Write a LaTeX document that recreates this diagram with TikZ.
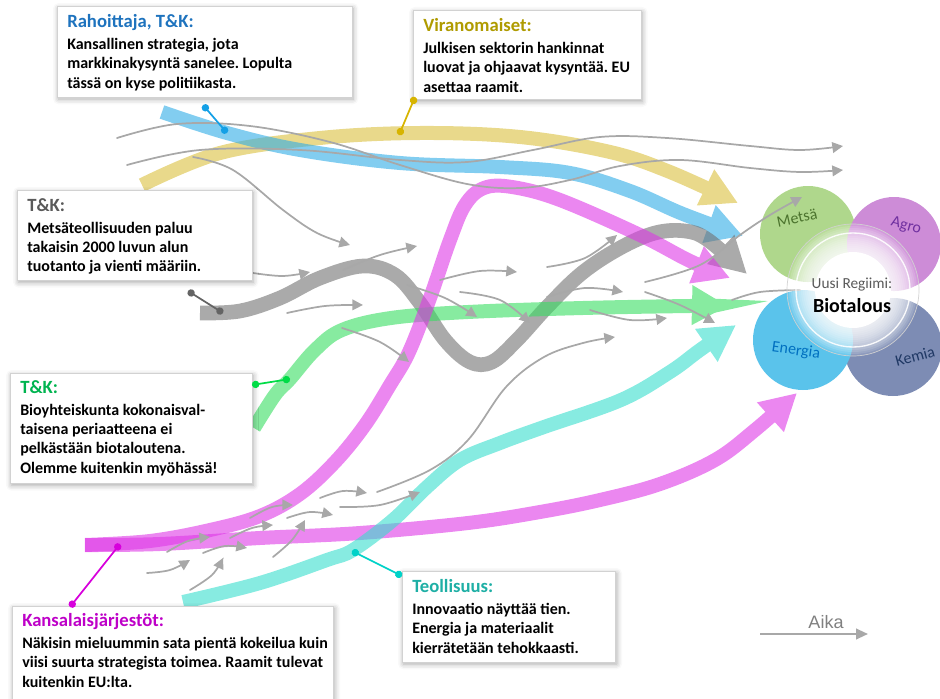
\documentclass[tikz,border=0pt]{standalone}
\usepackage{fontspec}
\setmainfont{Carlito}
\newfontfamily\axisfont{Liberation Sans}
\usetikzlibrary{arrows.meta,shadows.blur}

% band colours (used at 60% opacity)
\definecolor{bandyellow}{RGB}{218,192,62}
\definecolor{bandblue}{RGB}{47,172,230}
\definecolor{bandmagenta}{RGB}{222,55,230}
\definecolor{bandgray}{RGB}{113,113,113}
\definecolor{bandgreen}{RGB}{55,222,97}
\definecolor{bandteal}{RGB}{55,222,205}
\definecolor{flowgray}{RGB}{168,168,168}
\definecolor{boxborder}{RGB}{210,210,210}
% callout titles
\definecolor{titleblue}{RGB}{30,115,190}
\definecolor{titlegold}{RGB}{175,155,0}
\definecolor{titlegray}{RGB}{90,90,90}
\definecolor{titlegreen}{RGB}{0,180,80}
\definecolor{titlemagenta}{RGB}{190,0,200}
\definecolor{titleteal}{RGB}{30,175,165}
% callout leaders
\definecolor{connblue}{RGB}{20,160,230}
\definecolor{conngold}{RGB}{215,180,0}
\definecolor{conngray}{RGB}{100,100,100}
\definecolor{conngreen}{RGB}{0,220,70}
\definecolor{connmagenta}{RGB}{215,0,220}
\definecolor{connteal}{RGB}{0,210,200}
% sector petals
\definecolor{metsafill}{RGB}{175,215,140}
\definecolor{agrofill}{RGB}{205,140,215}
\definecolor{energiafill}{RGB}{90,195,235}
\definecolor{kemiafill}{RGB}{125,140,180}
\definecolor{metsatext}{RGB}{75,115,45}
\definecolor{agrotext}{RGB}{112,48,160}
\definecolor{energiatext}{RGB}{0,112,192}
\definecolor{kemiatext}{RGB}{31,56,100}

\newcommand\calltitle[2]{{\fontsize{14}{16}\selectfont\color{#1}#2}}

\begin{document}
\begin{tikzpicture}[x=0.75pt,y=-0.75pt,
  band/.style={line width=10.5pt, line cap=butt, -{Triangle[length=27pt,width=28pt]}},
  flowline/.style={draw=flowgray, line width=1.3pt, line cap=round, -{Triangle[length=8pt,width=8pt]}},
  callout/.style={draw=boxborder, line width=0.5pt, fill=white, anchor=north west, inner sep=0pt,
     blur shadow={shadow xshift=0.8pt, shadow yshift=-1.5pt, shadow blur radius=4pt, shadow opacity=35}},
  calltext/.style={anchor=north west, align=left, inner sep=0pt, font=\frenchspacing\bfseries\fontsize{12}{14.5}\selectfont},
  conn/.style={line width=1.3pt, {Circle[length=5.5pt]}-{Circle[length=5.5pt]}},
  petallabel/.style={font=\fontsize{12}{14}\selectfont, inner sep=0pt}
]
\useasboundingbox (0,0) rectangle (940,699);

% ---------- thick transition bands ----------
\begin{scope}[transparency group, opacity=0.6]
\draw[band, bandyellow] plot[smooth, tension=0.6] coordinates {(142,185) (220,153) (320,138) (420,133) (520,137) (610,152) (670,172) (738,203)};
\end{scope}
\begin{scope}[transparency group, opacity=0.6]
\draw[band, bandblue] plot[smooth, tension=0.6] coordinates {(162,112) (227,133) (300,150) (400,163) (500,167) (570,173) (630,191) (683,214) (743,236)};
\end{scope}
\begin{scope}[transparency group, opacity=0.6]
\draw[band, bandgray, line width=11pt] plot[smooth, tension=0.6] coordinates {(200,313) (240,311) (280,298) (320,278) (363,266) (395,275) (420,303) (445,340) (470,362) (492,362) (517,340) (548,306) (582,273) (620,248) (655,233) (685,231) (708,240) (747,274)};
\end{scope}
\begin{scope}[transparency group, opacity=0.6]
\draw[band, bandgreen] plot[smooth, tension=0.6] coordinates {(254,428) (275,395) (290,379) (315,350) (342,330) (391,318) (468,312) (583,308) (690,306) (728,306)};
\end{scope}
\begin{scope}[transparency group, opacity=0.6]
\draw[band, bandmagenta] plot[smooth, tension=0.6] coordinates {(85,545) (150,541) (210,530) (260,516) (300,494) (335,462) (365,425) (390,385) (409,352) (430,298) (450,240) (465,205) (484,188) (512,187) (560,200) (640,235) (690,261) (730,278)};
\end{scope}
\begin{scope}[transparency group, opacity=0.6]
\draw[band, bandmagenta] plot[smooth, tension=0.6] coordinates {(85,545) (160,544) (260,538) (360,533) (468,523) (540,512) (600,500) (660,484) (715,460) (755,430) (797,393)};
\end{scope}
\begin{scope}[transparency group, opacity=0.6]
\draw[band, bandteal] plot[smooth, tension=0.6] coordinates {(183,602) (260,583) (327,560) (353,550) (393,520) (427,487) (460,460) (500,443) (544,427) (621,400) (670,372) (700,350) (736,325)};
\end{scope}

% ---------- sector petals ----------
\fill[metsafill] (808,234) circle[radius=48];
\fill[agrofill] (894,244) circle[radius=47];
\fill[kemiafill] (893,347) circle[radius=49];
\fill[energiafill] (803,340) circle[radius=50];

% ---------- thin flow arrows ----------
\draw[flowline] plot[smooth, tension=0.6] coordinates {(117,138) (177,124) (250,126) (330,142) (400,165) (467,184) (520,188) (570,180) (620,166) (680,160) (750,168) (800,172) (843,170)};
\draw[flowline] plot[smooth, tension=0.6] coordinates {(127,165) (200,150) (300,150) (400,160) (467,162) (533,150) (600,137) (667,138) (750,146) (800,150) (843,146)};
\draw[flowline] plot[smooth, tension=0.6] coordinates {(193,157) (233,170) (283,210) (317,233) (350,245)};
\draw[flowline] plot[smooth, tension=0.6] coordinates {(343,270) (380,255) (417,246)};
\draw[flowline] plot[smooth, tension=0.6] coordinates {(253,273) (283,276) (310,272)};
\draw[flowline] plot[smooth, tension=0.6] coordinates {(287,313) (325,306) (363,305)};
\draw[flowline] plot[smooth, tension=0.6] coordinates {(407,285) (445,298) (477,317)};
\draw[flowline] plot[smooth, tension=0.6] coordinates {(440,280) (480,271) (517,272)};
\draw[flowline] plot[smooth, tension=0.6] coordinates {(460,292) (500,300) (530,323)};
\draw[flowline] plot[smooth, tension=0.6] coordinates {(547,267) (585,258) (617,235)};
\draw[flowline] plot[smooth, tension=0.6] coordinates {(547,297) (585,288) (623,292)};
\draw[flowline] plot[smooth, tension=0.6] coordinates {(590,310) (630,320) (667,318)};
\draw[flowline] plot[smooth, tension=0.6] coordinates {(645,292) (680,305) (715,323)};
\draw[flowline] plot[smooth, tension=0.6] coordinates {(342,328) (380,342) (409,362)};
\draw[flowline] plot[smooth, tension=0.6] coordinates {(377,492) (430,470) (468,440) (506,387) (544,357) (583,343) (615,337)};
\draw[flowline] plot[smooth, tension=0.6] coordinates {(645,282) (700,265) (740,235) (770,215) (802,197)};
\draw[flowline, -] plot[smooth, tension=0.6] coordinates {(732,300) (760,292) (800,290)};
\draw[flowline] plot[smooth, tension=0.6] coordinates {(147,573) (170,570) (190,560)};
\draw[flowline] plot[smooth, tension=0.6] coordinates {(190,590) (212,575) (223,558)};
\draw[flowline] plot[smooth, tension=0.6] coordinates {(167,552) (188,541) (210,537)};
\draw[flowline] plot[smooth, tension=0.6] coordinates {(203,553) (225,546) (247,548)};
\draw[flowline] plot[smooth, tension=0.6] coordinates {(230,538) (252,528) (273,525)};
\draw[flowline] plot[smooth, tension=0.6] coordinates {(250,518) (272,507) (293,505)};
\draw[flowline] plot[smooth, tension=0.6] coordinates {(273,557) (292,540) (305,520)};
\draw[flowline] plot[smooth, tension=0.6] coordinates {(287,518) (310,512) (333,515)};
\draw[flowline] plot[smooth, tension=0.6] coordinates {(320,498) (343,491) (367,493)};
\draw[flowline] plot[smooth, tension=0.6] coordinates {(340,507) (380,505) (420,492)};

% ---------- hub: glassy disc, clear rim turning white towards the centre ----------
\coordinate (hub) at (853,290);
\foreach \r in {66,64,...,40} {\fill[white, opacity=0.13] (hub) circle[radius=\r];}
\fill[white] (hub) circle[radius=38];
\draw[black!18, line width=0.5pt] (hub) circle[radius=66];
\draw[white, line width=1pt, opacity=0.9] (hub) circle[radius=57];
\node[text=black!65, font=\fontsize{11.5}{13}\selectfont] (regiimi) at (852,285) {Uusi Regiimi:};
\node[font=\bfseries\fontsize{15}{17}\selectfont] (biotalous) at (852,306) {Biotalous};
\node[petallabel, text=metsatext, rotate=12] (metsalbl) at (797,218) {Metsä};
\node[petallabel, text=agrotext, rotate=-15] (agrolbl) at (906,226) {Agro};
\node[petallabel, text=energiatext, rotate=-8] (energialbl) at (796,351) {Energia};
\node[petallabel, text=kemiatext, rotate=15] (kemialbl) at (915,356) {Kemia};

% ---------- time axis ----------
\node[font=\axisfont\fontsize{13.5}{15}\selectfont, text=black!50] (aika) at (826,622) {Aika};
\coordinate (aikaS) at (760,634);
\coordinate (aikaE) at (868,634);
\draw[draw=flowgray, line width=1.5pt, -{Triangle[length=9pt,width=8pt]}] (aikaS) -- (aikaE);

% ---------- callouts ----------
\node[callout, minimum width=221pt, minimum height=68pt] (rahbox) at (57,6) {};
\node[calltext] (rahtext) at (67,14) {\calltitle{titleblue}{Rahoittaja, T\&K:}\\[2pt]Kansallinen strategia, jota\\markkinakysyntä sanelee. Lopulta\\tässä on kyse politiikasta.};

\node[callout, minimum width=171pt, minimum height=67pt] (virbox) at (413,10) {};
\node[calltext] (virtext) at (423,18) {\calltitle{titlegold}{Viranomaiset:}\\[2pt]Julkisen sektorin hankinnat\\luovat ja ohjaavat kysyntää. EU\\asettaa raamit.};

\node[callout, minimum width=176pt, minimum height=67.5pt] (metbox) at (17,190) {};
\node[calltext] (mettext) at (27,198) {\calltitle{titlegray}{T\&K:}\\[2pt]Metsäteollisuuden paluu\\takaisin 2000 luvun alun\\tuotanto ja vienti määriin.};

\node[callout, minimum width=181.5pt, minimum height=82.5pt] (biobox) at (10,373) {};
\node[calltext] (biotext) at (20,380) {\calltitle{titlegreen}{T\&K:}\\[2pt]Bioyhteiskunta kokonaisval-\\taisena periaatteena ei\\pelkästään biotaloutena.\\Olemme kuitenkin myöhässä!};

\node[callout, minimum width=241pt, minimum height=75pt] (kanbox) at (12,606) {};
\node[calltext] (kantext) at (22,613) {\calltitle{titlemagenta}{Kansalaisjärjestöt:}\\[2pt]Näkisin mieluummin sata pientä kokeilua kuin\\viisi suurta strategista toimea. Raamit tulevat\\kuitenkin EU:lta.};

\node[callout, minimum width=160pt, minimum height=68pt] (teobox) at (402,571) {};
\node[calltext] (teotext) at (412,579) {\calltitle{titleteal}{Teollisuus:}\\[2pt]Innovaatio näyttää tien.\\Energia ja materiaalit\\kierrätetään tehokkaasti.};

% ---------- callout leaders ----------
\coordinate (rahA) at (203,105); \coordinate (rahB) at (227,133);
\draw[conn, connblue] (rahA) -- (rahB);
\coordinate (virA) at (415,97); \coordinate (virB) at (399,135);
\draw[conn, conngold] (virA) -- (virB);
\coordinate (metA) at (188,291); \coordinate (metB) at (223,313);
\draw[conn, conngray] (metA) -- (metB);
\coordinate (bioA) at (252,385); \coordinate (bioB) at (290,379);
\draw[conn, conngreen] (bioA) -- (bioB);
\coordinate (kanA) at (70,607); \coordinate (kanB) at (120,544);
\draw[conn, connmagenta] (kanA) -- (kanB);
\coordinate (teoA) at (352,551); \coordinate (teoB) at (402,576);
\draw[conn, connteal] (teoA) -- (teoB);
\end{tikzpicture}
\end{document}
